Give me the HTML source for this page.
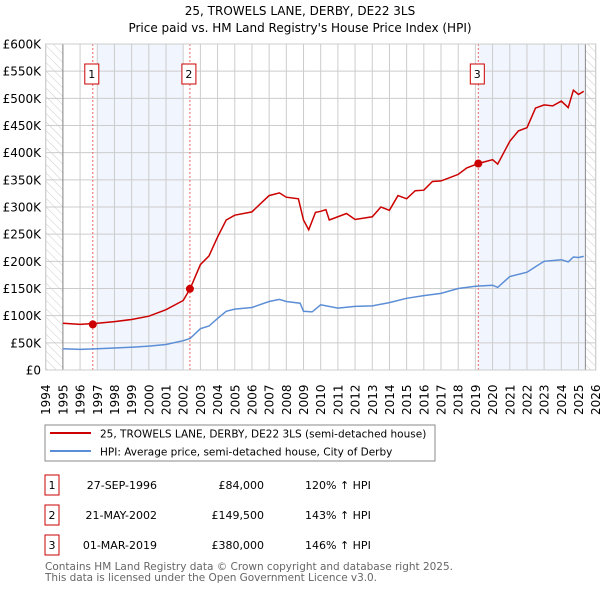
<!DOCTYPE html>
<html><head><meta charset="utf-8"><style>
body{margin:0;background:#fff;width:600px;height:590px;overflow:hidden;font-family:"DejaVu Sans","Liberation Sans",sans-serif}
svg text{font-family:"DejaVu Sans","Liberation Sans",sans-serif}
</style></head><body>
<svg id="c" width="600" height="590" xmlns="http://www.w3.org/2000/svg">
<defs><pattern id="hatch" width="6" height="6" patternUnits="userSpaceOnUse" patternTransform="rotate(-45)"><line x1="0" y1="0" x2="0" y2="6" stroke="#ccc" stroke-width="1"/></pattern></defs>
<text x="300" y="15" text-anchor="middle" font-size="12">25, TROWELS LANE, DERBY, DE22 3LS</text>
<text x="300" y="32" text-anchor="middle" font-size="12">Price paid vs. HM Land Registry's House Price Index (HPI)</text>
<g id="plot"></g>
<rect x="45" y="425" width="390" height="36" fill="#fff" stroke="#888"/>
<line x1="50" y1="433" x2="91" y2="433" stroke="#cc0000" stroke-width="2"/>
<text x="100" y="437.5" font-size="10.5">25, TROWELS LANE, DERBY, DE22 3LS (semi-detached house)</text>
<line x1="50" y1="451" x2="91" y2="451" stroke="#5b8ed6" stroke-width="2"/>
<text x="100" y="455.5" font-size="10.5">HPI: Average price, semi-detached house, City of Derby</text>
<g id="table" font-size="11"></g>
<text x="45" y="570" font-size="10.5" fill="#666" textLength="408">Contains HM Land Registry data © Crown copyright and database right 2025.</text>
<text x="45" y="581" font-size="10.5" fill="#666" textLength="332">This data is licensed under the Open Government Licence v3.0.</text>
</svg>
<script>
const hpiYears=[1995,1996,1997,1998,1999,2000,2001,2002,2002.4,2003,2003.5,2004,2004.5,2005,2006,2007,2007.6,2008,2008.8,2009,2009.5,2010,2011,2012,2013,2014,2015,2016,2017,2018,2019,2020,2020.3,2021,2022,2022.5,2023,2024,2024.4,2024.7,2025,2025.3];
const hpiValues=[39,38,39,40.5,42,44,47,54,58,76,81,95,108,112,115,126,130,126,123,108,107,120,114,117,118,124,132,137,141,150,154,156,152,172,180,190,200,203,199,208,207,209];
const priceYears=[1995,1996,1997,1998,1999,2000,2001,2002,2002.4,2003,2003.5,2004,2004.5,2005,2006,2006.5,2007,2007.6,2008,2008.7,2009,2009.3,2009.7,2010,2010.3,2010.5,2011.5,2012,2013,2013.5,2014,2014.5,2015,2015.5,2016,2016.5,2017,2017.5,2018,2018.5,2019.17,2020,2020.3,2021,2021.5,2022,2022.5,2023,2023.5,2024,2024.4,2024.7,2025,2025.3];
const priceValues=[86,84,86,89,93,99,111,128,149.5,194,210,245,276,285,291,306,321,326,318,315,276,258,290,292,295,276,288,277,282,300,294,321,315,330,331,347,348,354,360,372,380,387,379,421,440,446,482,488,486,495,483,515,507,513];
const saleLabels=["1","2","3"];
const saleYears=[1996.74,2002.39,2019.17];
const saleValues=[84,149.5,380];
const saleDates=["27-SEP-1996","21-MAY-2002","01-MAR-2019"];
const salePrices=["£84,000","£149,500","£380,000"];
const saleHpi=["120% ↑ HPI","143% ↑ HPI","146% ↑ HPI"];
const yTicks=[0,50,100,150,200,250,300,350,400,450,500,550,600];
const yTickLabels=["£0","£50K","£100K","£150K","£200K","£250K","£300K","£350K","£400K","£450K","£500K","£550K","£600K"];
const NS="http://www.w3.org/2000/svg";
const X0=45.7,X1=595.7,Y0=370,Y1=44;
const xs=y=>X0+(y-1994)/32*(X1-X0);
const ys=v=>Y0-v/600*(Y0-Y1);
const plot=document.getElementById('plot');
function mk(t,a,p){const e=document.createElementNS(NS,t);for(const k in a)e.setAttribute(k,a[k]);(p||plot).appendChild(e);return e;}
let e;
e=mk('rect',{x:xs(1997),y:Y1,width:xs(2002)-xs(1997),height:Y0-Y1,fill:'#eef3fc',opacity:0.8});


e=mk('rect',{x:xs(2019.17),y:Y1,width:xs(2025.4)-xs(2019.17),height:Y0-Y1,fill:'#eef3fc',opacity:0.8});


e=mk('rect',{x:X0,y:Y1,width:xs(1995)-X0,height:Y0-Y1,fill:'url(#hatch)'});


e=mk('rect',{x:xs(2025.4),y:Y1,width:X1-xs(2025.4),height:Y0-Y1,fill:'url(#hatch)'});


for(let i=0;i<yTicks.length;i++){
  const y=ys(yTicks[i]);
  e=mk('line',{x1:X0,x2:X1,y1:y,y2:y,stroke:'#ccc','stroke-width':1});
  
  
  e=mk('text',{x:41,y:y+4.5,'text-anchor':'end','font-size':12});
  e.textContent=yTickLabels[i];
  
  
}
for(let yr=1994;yr<=2026;yr++){
  const x=xs(yr);
  e=mk('line',{x1:x,x2:x,y1:Y1,y2:Y0,stroke:'#ccc','stroke-width':1});
  
  
  e=mk('text',{x:0,y:0,'font-size':12,transform:`translate(${x+4.5},415) rotate(-90)`});
  e.textContent=yr;
  
  
}
e=mk('line',{x1:xs(1995),x2:xs(1995),y1:Y1,y2:Y0,stroke:'#888','stroke-width':1});


e=mk('line',{x1:xs(2025.4),x2:xs(2025.4),y1:Y1,y2:Y0,stroke:'#888','stroke-width':1});


for(let i=0;i<saleYears.length;i++){
  const x=xs(saleYears[i]);
  e=mk('line',{x1:x,x2:x,y1:Y1,y2:Y0,stroke:'#e66','stroke-width':1,'stroke-dasharray':'2,2'});
  
  
  e=mk('rect',{x:x-8,y:64,width:14,height:20,fill:'#fff',stroke:'#cc0000'});
  
  
  e=mk('text',{x:x-1,y:78,'text-anchor':'middle','font-size':11});
  e.textContent=saleLabels[i];
  
  
}
function pathOf(xsA,vs){return xsA.map((y,i)=>(i?'L':'M')+xs(y).toFixed(1)+','+ys(vs[i]).toFixed(1)).join(' ');}
e=mk('path',{d:pathOf(hpiYears,hpiValues),fill:'none',stroke:'#5b8ed6','stroke-width':1.5});


e=mk('path',{d:pathOf(priceYears,priceValues),fill:'none',stroke:'#cc0000','stroke-width':1.5});


for(let i=0;i<saleYears.length;i++){
  e=mk('circle',{cx:xs(saleYears[i]),cy:ys(saleValues[i]),r:4,fill:'#cc0000'});
  
  
}
e=mk('rect',{x:X0,y:Y1,width:X1-X0,height:Y0-Y1,fill:'none',stroke:'#ccc'});


const tb=document.getElementById('table');
for(let i=0;i<saleLabels.length;i++){
  const top=475+i*30;
  e=mk('rect',{x:45,y:top,width:14,height:20,fill:'#fff',stroke:'#cc0000'},tb);
  
  
  const cols=[[52,saleLabels[i],'middle'],[157,saleDates[i],'end'],[264,salePrices[i],'end'],[305,saleHpi[i],'start']];
  const nm=['index','date','price','hpi-change'];
  cols.forEach((c,j)=>{
    e=mk('text',{x:c[0],y:top+14,'text-anchor':c[2]},tb);
    e.textContent=c[1];
    
    
  });
}
</script>
</body></html>
